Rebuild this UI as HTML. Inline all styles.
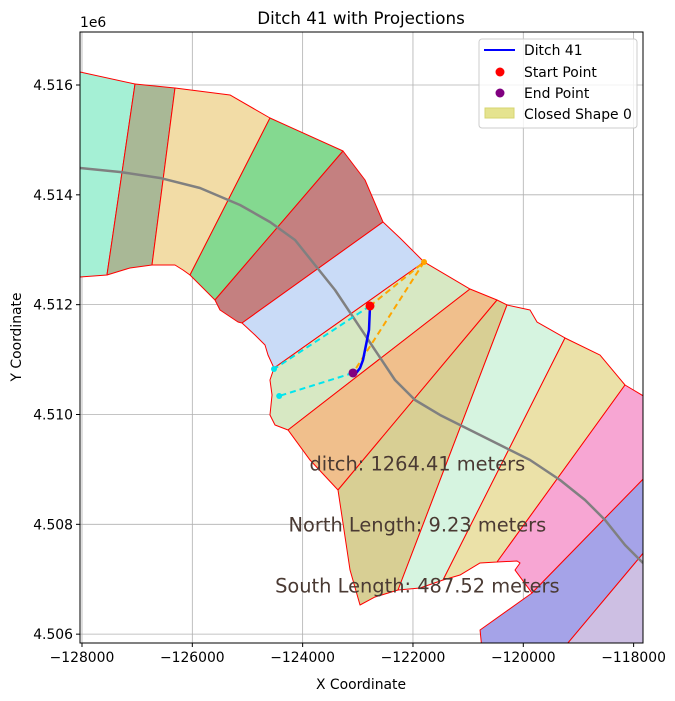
<!DOCTYPE html>
<html><head><meta charset="utf-8"><style>
body{margin:0;background:#fff;}
svg{display:block;font-family:"DejaVu Sans","Liberation Sans",sans-serif;}
</style></head><body>
<svg id="chart" width="675" height="701" viewBox="0 0 675 701" xmlns="http://www.w3.org/2000/svg">
<defs><clipPath id="plotclip"><rect x="80" y="32" width="563" height="611"/></clipPath></defs>
<rect x="0" y="0" width="675" height="701" fill="#fff"/>
<g id="grid"></g>
<g id="shapes" clip-path="url(#plotclip)"></g>
<g id="lines" clip-path="url(#plotclip)"></g>
<g id="annot"></g>
<rect x="80" y="32" width="563" height="611" fill="none" stroke="#000" stroke-width="1"/>
<g id="axes"></g>
<text x="361" y="24" font-size="16.7" text-anchor="middle">Ditch 41 with Projections</text>
<text x="361" y="689" font-size="13.9" text-anchor="middle">X Coordinate</text>
<text x="21" y="337" font-size="13.9" text-anchor="middle" transform="rotate(-90 21 337)">Y Coordinate</text>
<text x="80" y="27" font-size="13.9">1e6</text>
<g id="legend">
<rect x="479" y="39" width="158" height="89" rx="3" fill="#fff" fill-opacity="0.8" stroke="#ccc"/>
<line x1="484" y1="50" x2="515" y2="50" stroke="#0000ff" stroke-width="2"/>
<text x="524" y="55" font-size="13.9">Ditch 41</text>
<circle cx="500" cy="72" r="4.5" fill="#ff0000"/>
<text x="524" y="77" font-size="13.9">Start Point</text>
<circle cx="500" cy="93" r="4.5" fill="#800080"/>
<text x="524" y="98" font-size="13.9">End Point</text>
<rect x="485" y="108" width="29" height="10" fill="#e5e38f" stroke="#d6d470"/>
<text x="524" y="119" font-size="13.9">Closed Shape 0</text>
</g>
</svg>
<script>
const xTicks=[-128000,-126000,-124000,-122000,-120000,-118000];
const yTicks=[4506000,4508000,4510000,4512000,4514000,4516000];
const xTickLabels=["\u2212128000","\u2212126000","\u2212124000","\u2212122000","\u2212120000","\u2212118000"];
const yTickLabels=["4.506","4.508","4.510","4.512","4.514","4.516"];
const zoneNames=["zone-1","zone-2","zone-3","zone-4","zone-5","zone-6","zone-7","zone-8","zone-9","zone-10","zone-11","zone-12","zone-13","zone-14"];
const zoneColors=["#a5f0d5","#a9b896","#f2dca6","#84d990","#c48080","#c9dbf7","#d7e8c3","#f0bf8c","#d8cf94","#d6f4e0","#ebe1a8","#f7a6d3","#a5a3e8","#cdbfe3"];
const zones=[
[[-128036,4516237],[-127039,4516018],[-127547,4512540],[-128036,4512504]],
[[-127039,4516018],[-126314,4515945],[-126731,4512722],[-127130,4512668],[-127547,4512540]],
[[-126314,4515945],[-125317,4515818],[-124592,4515399],[-126042,4512540],[-126169,4512631],[-126314,4512722],[-126731,4512722]],
[[-124592,4515399],[-123268,4514798],[-125589,4512085],[-125770,4512267],[-126042,4512540]],
[[-123268,4514798],[-122869,4514270],[-122543,4513505],[-125099,4511666],[-125172,4511684],[-125498,4511903],[-125589,4512085]],
[[-122543,4513505],[-122235,4513214],[-121799,4512777],[-124519,4510846],[-124628,4511083],[-124682,4511266],[-124864,4511448],[-125099,4511666]],
[[-121799,4512777],[-120966,4512285],[-124265,4509718],[-124501,4509809],[-124592,4509991],[-124555,4510355],[-124592,4510628],[-124519,4510846]],
[[-120966,4512285],[-120476,4512085],[-123359,4508625],[-123866,4509171],[-124265,4509718]],
[[-120476,4512085],[-120295,4511994],[-122271,4506804],[-122688,4506677],[-122960,4506531],[-123141,4507168],[-123359,4508625]],
[[-120295,4511994],[-119878,4511903],[-119751,4511684],[-119244,4511393],[-121455,4506986],[-121872,4506840],[-122271,4506804]],
[[-119244,4511393],[-118609,4511083],[-118156,4510537],[-120476,4507314],[-120784,4507296],[-121147,4507077],[-121455,4506986]],
[[-118156,4510537],[-117702,4510264],[-117702,4508953],[-119842,4506749],[-120150,4507168],[-120059,4507296],[-120113,4507332],[-120476,4507314]],
[[-117702,4508953],[-117702,4507623],[-119298,4505711],[-120748,4505711],[-120784,4506076],[-119842,4506749]],
[[-117702,4507623],[-117702,4505711],[-119298,4505711]]
];
const centerX=[-128036,-127311,-126586,-125861,-125135,-124592,-124138,-123776,-123413,-123051,-122688,-122326,-121963,-121510,-120966,-120422,-119878,-119334,-118881,-118518,-118156,-117830];
const centerY=[4514489,4514416,4514307,4514124,4513815,4513505,4513178,4512722,4512267,4511721,4511174,4510628,4510264,4509991,4509718,4509444,4509171,4508807,4508443,4508079,4507623,4507296];
const ditchX=[-122779,-122797,-122833,-122906,-122960,-123014,-123087];
const ditchY=[4511976,4511539,4511357,4510992,4510846,4510774,4510756];
const startPt=[-122779,4511976];
const endPt=[-123087,4510756];
const orangePt=[-121799,4512777];
const cyanPts=[[-124519,4510828],[-124425,4510337]];
const annotations=["ditch: 1264.41 meters","North Length: 9.23 meters","South Length: 487.52 meters"];
const annotY=[4508980,4507870,4506760];
const annotXc=-121920;

const X0=-128036,X1=-117830,Y0=4505839,Y1=4516965,L=80,R=643,T=32,B=643;
const sx=v=>L+(v-X0)/(X1-X0)*(R-L);
const sy=v=>B-(v-Y0)/(Y1-Y0)*(B-T);
const NS="http://www.w3.org/2000/svg";
function mk(tag,parent,attrs){const e=document.createElementNS(NS,tag);for(const k in attrs)e.setAttribute(k,attrs[k]);parent.appendChild(e);return e;}
const grid=document.getElementById('grid'),axes=document.getElementById('axes');
xTicks.forEach((t,i)=>{const x=sx(t);
 const g=mk('line',grid,{x1:x,x2:x,y1:T,y2:B,stroke:'#b0b0b0','stroke-width':0.8});
 
 
 const tk=mk('line',axes,{x1:x,x2:x,y1:B,y2:B+4,stroke:'#000'});
 
 
 const tx=mk('text',axes,{x:x,y:B+19,'font-size':13.9,'text-anchor':'middle'});tx.textContent=xTickLabels[i];
 
 
});
yTicks.forEach((t,i)=>{const y=sy(t);
 const g=mk('line',grid,{x1:L,x2:R,y1:y,y2:y,stroke:'#b0b0b0','stroke-width':0.8});
 
 
 const tk=mk('line',axes,{x1:L-4,x2:L,y1:y,y2:y,stroke:'#000'});
 
 
 const tx=mk('text',axes,{x:L-7,y:y+5,'font-size':13.9,'text-anchor':'end'});tx.textContent=yTickLabels[i];
 
 
});
const shapes=document.getElementById('shapes');
zones.forEach((z,i)=>{
 const p=mk('polygon',shapes,{points:z.map(v=>sx(v[0])+','+sy(v[1])).join(' '),fill:zoneColors[i],stroke:'#ff0000','stroke-width':1,'stroke-linejoin':'round'});
 
 
});
const lines=document.getElementById('lines');
const cl=mk('polyline',lines,{points:centerX.map((v,i)=>sx(v)+','+sy(centerY[i])).join(' '),fill:'none',stroke:'#808080','stroke-width':2.5,'stroke-linejoin':'round'});


function dash(a,b,c,name){const l=mk('line',lines,{x1:sx(a[0]),y1:sy(a[1]),x2:sx(b[0]),y2:sy(b[1]),stroke:c,'stroke-width':2,'stroke-dasharray':'6,4'});
 
 }
dash(startPt,orangePt,'#ffa500','north-projection-line');
dash(orangePt,endPt,'#ffa500','north-projection-line-2');
dash(startPt,cyanPts[0],'#00e5ee','south-projection-line');
dash(endPt,cyanPts[1],'#00e5ee','south-projection-line-2');
const dl=mk('polyline',lines,{points:ditchX.map((v,i)=>sx(v)+','+sy(ditchY[i])).join(' '),fill:'none',stroke:'#0000ff','stroke-width':2.5});


const op=mk('circle',lines,{cx:sx(orangePt[0]),cy:sy(orangePt[1]),r:3,fill:'#ffa500'});


cyanPts.forEach(c=>{const e=mk('circle',lines,{cx:sx(c[0]),cy:sy(c[1]),r:3,fill:'#00e5ee'});
 
 });
const sp=mk('circle',lines,{cx:sx(startPt[0]),cy:sy(startPt[1]),r:4.5,fill:'#ff0000'});


const ep=mk('circle',lines,{cx:sx(endPt[0]),cy:sy(endPt[1]),r:4.5,fill:'#800080'});


const an=document.getElementById('annot');
annotations.forEach((s,i)=>{const t=mk('text',an,{x:sx(annotXc),y:sy(annotY[i]),'font-size':19.4,'text-anchor':'middle',fill:'#4a3a33'});t.textContent=s;
 
 });
</script>
</body></html>
